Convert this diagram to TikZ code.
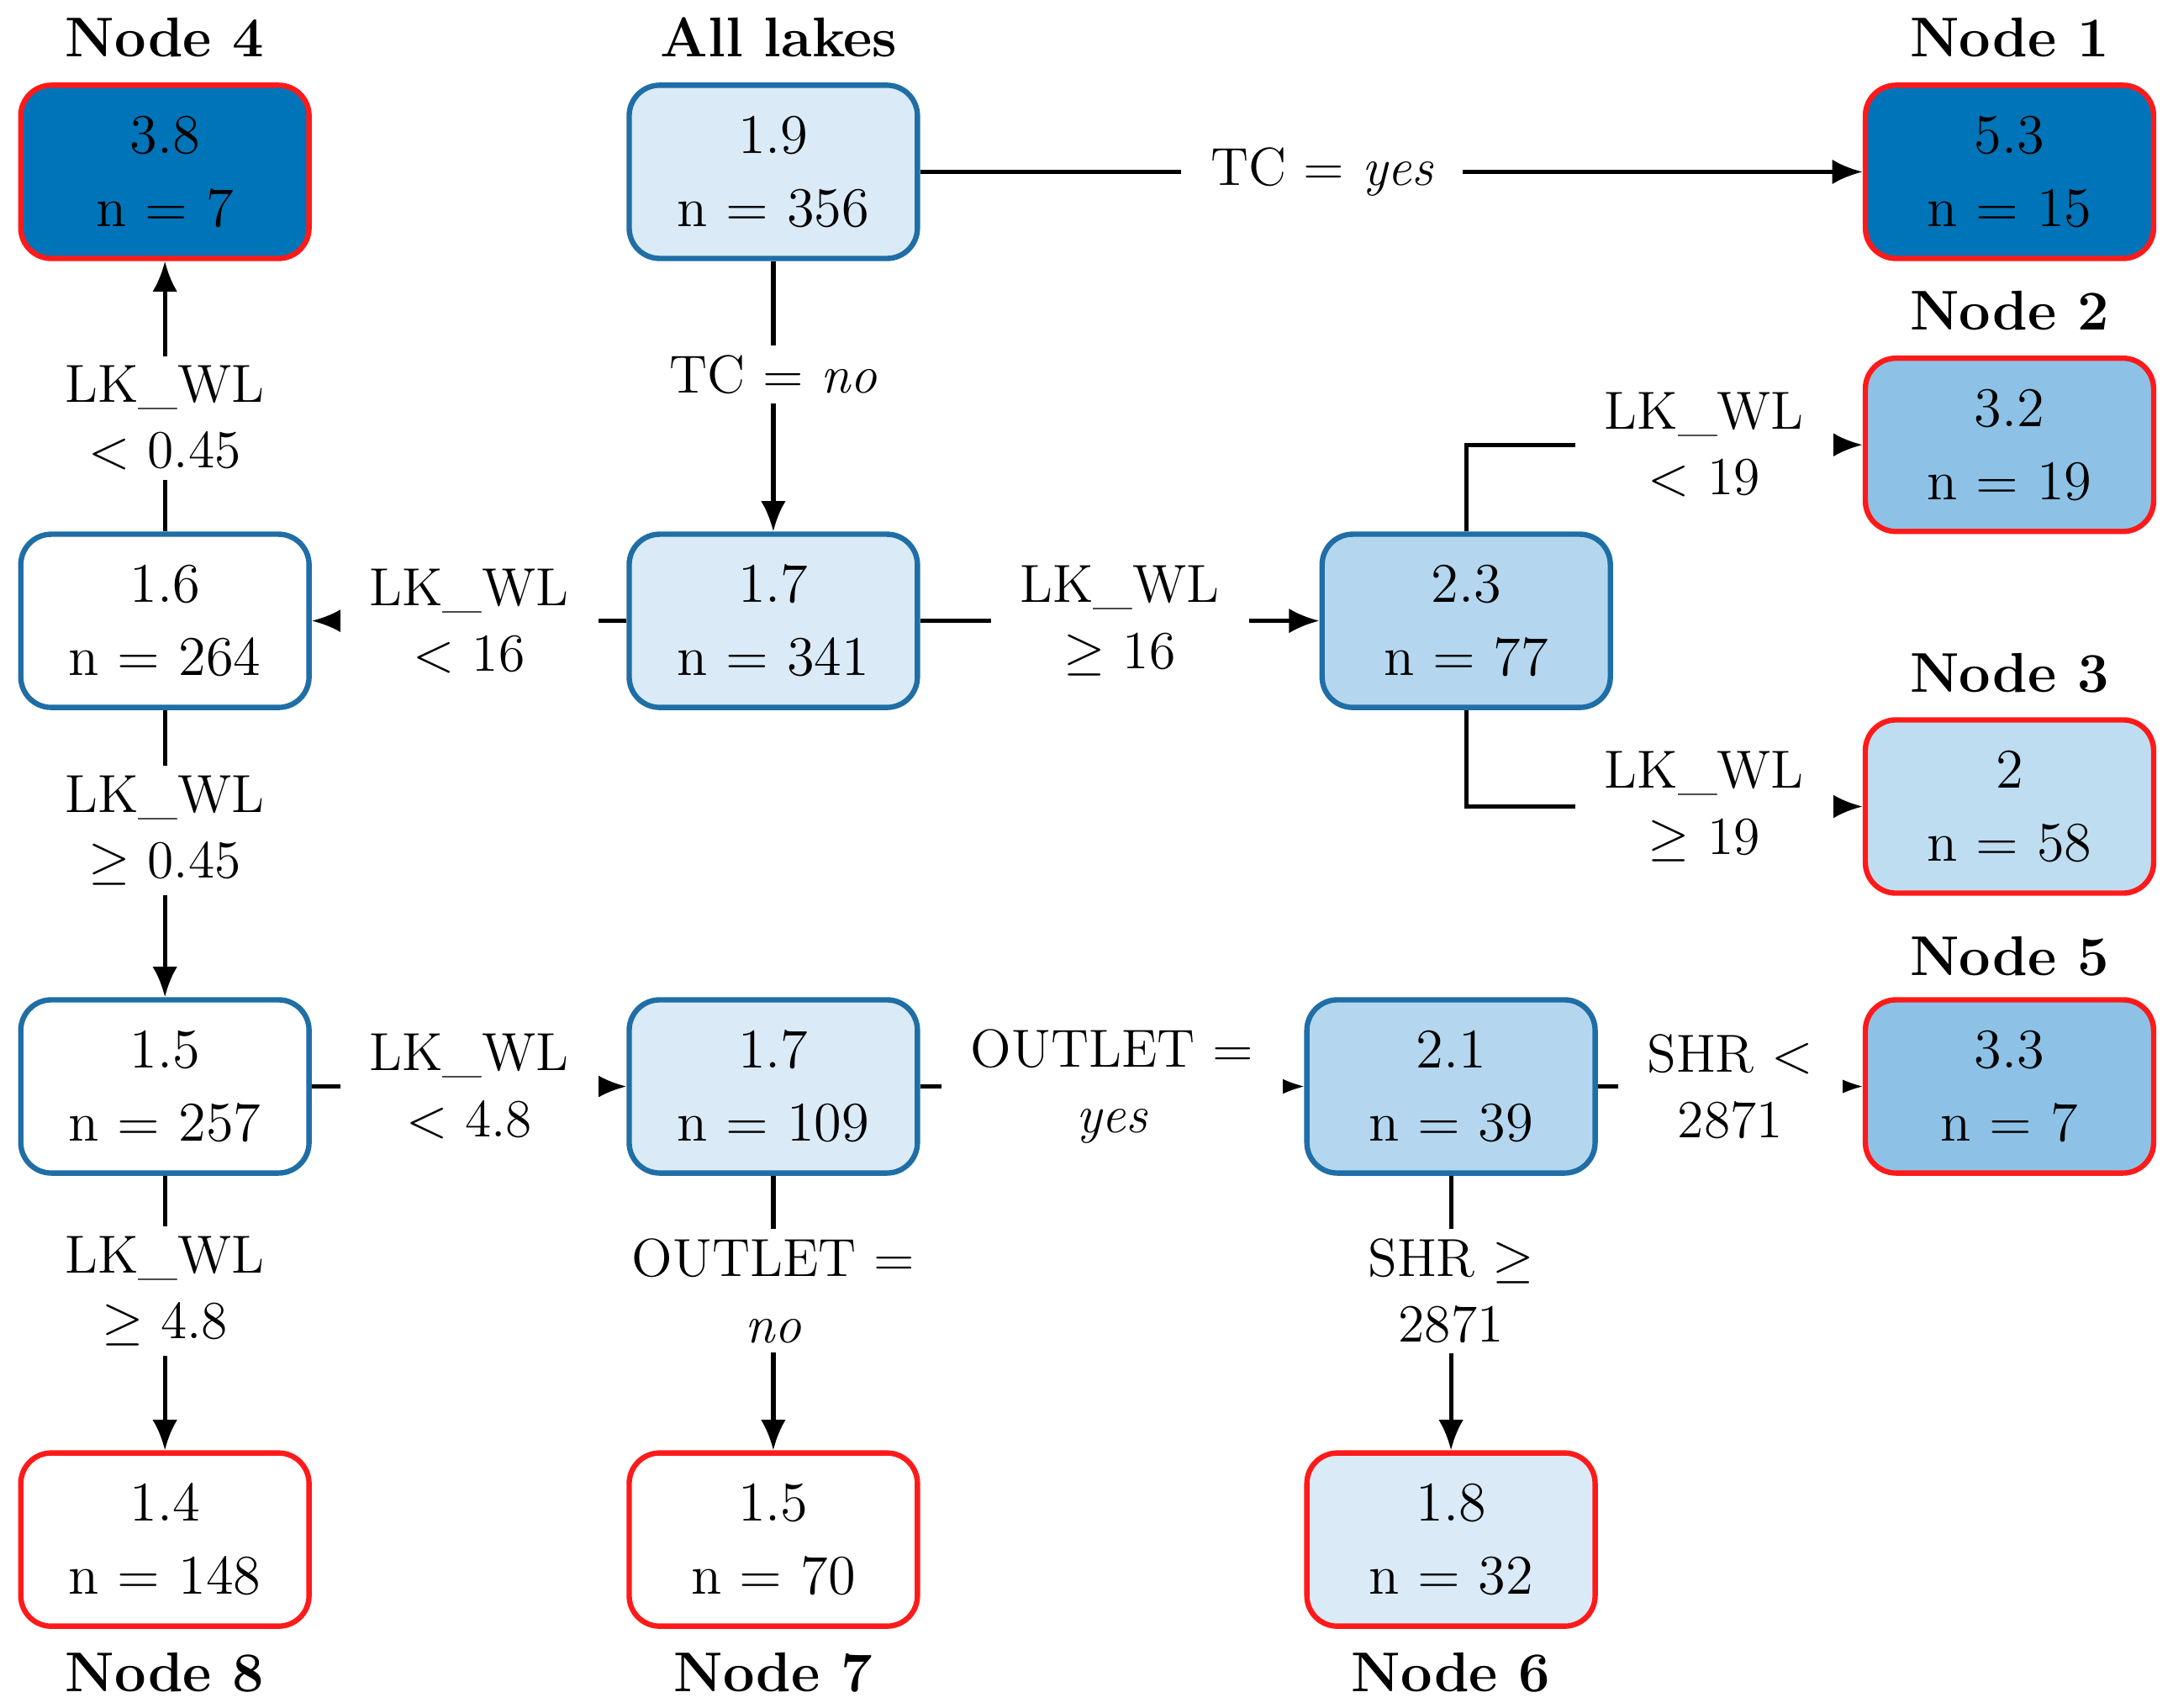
\documentclass[tikz,border=0pt]{standalone}
\usetikzlibrary{arrows.meta}
\definecolor{dk}{HTML}{0074B8}
\definecolor{md}{HTML}{8DC2E6}
\definecolor{lm}{HTML}{B4D7EF}
\definecolor{lt}{HTML}{DAEAF7}
\definecolor{bb}{HTML}{1F6EA6}
\definecolor{rd}{HTML}{FF1A1A}
\begin{document}
\begin{tikzpicture}[x=1cm,y=1cm,
  box/.style={rounded corners=0.22cm,minimum width=2.08cm,minimum height=1.25cm,line width=1.1pt,align=center,font=\fontsize{11.5}{15}\selectfont,draw=bb},
  leaf/.style={box,draw=rd},
  ttl/.style={font=\fontsize{11.5}{14}\selectfont\bfseries},
  lab/.style={fill=white,align=center,font=\fontsize{11}{13.5}\selectfont,inner sep=2pt},
  ed/.style={line width=0.9pt,-{Latex[length=2.2mm,width=1.8mm]}}]
\useasboundingbox (0,0) rectangle (15.68,-12.32);
% nodes
\node[leaf,fill=dk] (n4) at (1.19,-1.24) {3.8\\n = 7};
\node[box,fill=lt] (all) at (5.58,-1.24) {1.9\\n = 356};
\node[leaf,fill=dk] (n1) at (14.50,-1.24) {5.3\\n = 15};
\node[leaf,fill=md] (n2) at (14.50,-3.21) {3.2\\n = 19};
\node[box,fill=white] (a264) at (1.19,-4.48) {1.6\\n = 264};
\node[box,fill=lt] (a341) at (5.58,-4.48) {1.7\\n = 341};
\node[box,fill=lm] (a77) at (10.58,-4.48) {2.3\\n = 77};
\node[leaf,fill=lm!70!lt] (n3) at (14.50,-5.82) {2\\n = 58};
\node[box,fill=white] (a257) at (1.19,-7.84) {1.5\\n = 257};
\node[box,fill=lt] (a109) at (5.58,-7.84) {1.7\\n = 109};
\node[box,fill=lm] (a39) at (10.47,-7.84) {2.1\\n = 39};
\node[leaf,fill=md] (n5) at (14.50,-7.84) {3.3\\n = 7};
\node[leaf,fill=white] (n8) at (1.19,-11.11) {1.4\\n = 148};
\node[leaf,fill=white] (n7) at (5.58,-11.11) {1.5\\n = 70};
\node[leaf,fill=lt] (n6) at (10.47,-11.11) {1.8\\n = 32};
% titles
\node[ttl] (t4) at (1.19,-0.27) {Node 4};
\node[ttl] (ta) at (5.62,-0.27) {All lakes};
\node[ttl] (t1) at (14.50,-0.27) {Node 1};
\node[ttl] (t2) at (14.50,-2.24) {Node 2};
\node[ttl] (t3) at (14.50,-4.86) {Node 3};
\node[ttl] (t5) at (14.50,-6.90) {Node 5};
\node[ttl] (t8) at (1.19,-12.07) {Node 8};
\node[ttl] (t7) at (5.58,-12.07) {Node 7};
\node[ttl] (t6) at (10.47,-12.07) {Node 6};
% edges
\draw[ed] (all) -- node[lab,pos=0.5,xshift=-0.5cm,inner xsep=6pt] {TC = \textit{yes}} (n1);
\draw[ed] (all) -- node[lab,pos=0.42] {TC = \textit{no}} (a341);
\draw[ed] (a341) -- node[lab,inner xsep=6pt] {LK\_WL\\$<$ 16} (a264);
\draw[ed] (a341) -- node[lab,inner xsep=6pt] {LK\_WL\\$\geq$ 16} (a77);
\coordinate (c2) at (10.58,-3.21);
\coordinate (c3) at (10.58,-5.82);
\draw[ed] (a77.north) -- (c2) -- node[lab,pos=0.6,inner xsep=6pt] {LK\_WL\\$<$ 19} (n2);
\draw[ed] (a77.south) -- (c3) -- node[lab,pos=0.6,inner xsep=6pt] {LK\_WL\\$\geq$ 19} (n3);
\draw[ed] (a264) -- node[lab,pos=0.42] {LK\_WL\\$<$ 0.45} (n4);
\draw[ed] (a264) -- node[lab,pos=0.42] {LK\_WL\\$\geq$ 0.45} (a257);
\draw[ed] (a257) -- node[lab,inner xsep=6pt] {LK\_WL\\$<$ 4.8} (a109);
\draw[ed] (a257) -- node[lab,pos=0.42] {LK\_WL\\$\geq$ 4.8} (n8);
\draw[ed] (a109) -- node[lab,inner xsep=6pt] {OUTLET =\\\textit{yes}} (a39);
\draw[ed] (a109) -- node[lab,pos=0.42] {OUTLET =\\\textit{no}} (n7);
\draw[ed] (a39) -- node[lab,inner xsep=6pt] {SHR $<$\\2871} (n5);
\draw[ed] (a39) -- node[lab,pos=0.42] {SHR $\geq$\\2871} (n6);
\end{tikzpicture}
\end{document}
